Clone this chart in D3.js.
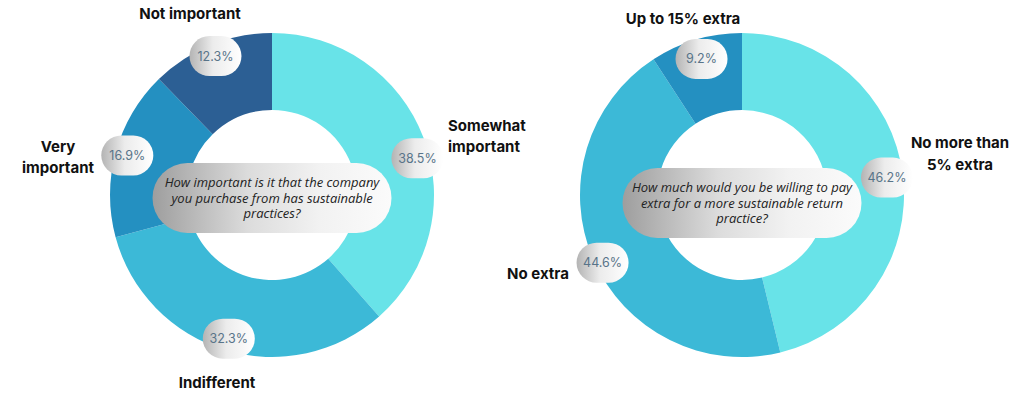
<!DOCTYPE html>
<html>
<head>
<meta charset="utf-8">
<script src="https://cdn.jsdelivr.net/npm/d3@7"></script>
<style>
  html, body { margin: 0; padding: 0; background: #ffffff; }
  svg { display: block; }
</style>
</head>
<body>
<svg id="chart" width="1016" height="395"></svg>
<script>
// ---- Data ----
const chart1Categories = ["Somewhat important", "Indifferent", "Very important", "Not important"];
const chart1Values = [38.5, 32.3, 16.9, 12.3];
const chart1Question = ["How important is it that the company", "you purchase from has sustainable", "practices?"];

const chart2Categories = ["No more than 5% extra", "No extra", "Up to 15% extra"];
const chart2Values = [46.2, 44.6, 9.2];
const chart2Question = ["How much would you be willing to pay", "extra for a more sustainable return", "practice?"];

// ---- Styles / layout ----
const chart1Colors = ["#68E3E8", "#3CB9D7", "#2490C1", "#2C5F94"];
const chart2Colors = ["#68E3E8", "#3CB9D7", "#2490C1"];

const outerR = 162, innerR = 85, pillR = 150;
const labelAngleShift = { "Somewhat important": 6.5, "No extra": -2.5 };
const labelRadiusAdj = { "No more than 5% extra": -4, "No extra": 5, "Up to 15% extra": -8 };

const catLabelLayout = {
  "Somewhat important": { lines: ["Somewhat", "important"], dx: 176, dy: -59, anchor: "start" },
  "Indifferent": { lines: ["Indifferent"], dx: -55, dy: 187, anchor: "middle" },
  "Very important": { lines: ["Very", "important"], dx: -214, dy: -38, anchor: "middle" },
  "Not important": { lines: ["Not important"], dx: -82, dy: -182, anchor: "middle" },
  "No more than 5% extra": { lines: ["No more than", "5% extra"], dx: 218, dy: -41.5, anchor: "middle" },
  "No extra": { lines: ["No extra"], dx: -204, dy: 78, anchor: "middle" },
  "Up to 15% extra": { lines: ["Up to 15% extra"], dx: -59, dy: -177, anchor: "middle" }
};

const svg = d3.select("#chart");
const defs = svg.append("defs");

const pillGrad = defs.append("linearGradient").attr("id", "pillGrad")
  .attr("x1", "0%").attr("x2", "100%").attr("y1", "0%").attr("y2", "0%");
pillGrad.append("stop").attr("offset", "0%").attr("stop-color", "#b4b4b4");
pillGrad.append("stop").attr("offset", "45%").attr("stop-color", "#ececec");
pillGrad.append("stop").attr("offset", "100%").attr("stop-color", "#ffffff");

const qGrad = defs.append("linearGradient").attr("id", "qGrad")
  .attr("x1", "0%").attr("x2", "100%").attr("y1", "0%").attr("y2", "0%");
qGrad.append("stop").attr("offset", "0%").attr("stop-color", "#9e9e9e");
qGrad.append("stop").attr("offset", "40%").attr("stop-color", "#dcdcdc");
qGrad.append("stop").attr("offset", "70%").attr("stop-color", "#f2f2f2");
qGrad.append("stop").attr("offset", "100%").attr("stop-color", "#fbfbfb");

function drawDonut(cx, cy, categories, values, colors, question, qOffsetY) {
  const g = svg.append("g").attr("transform", `translate(${cx},${cy})`);
  const pie = d3.pie().sort(null).value(d => d.value);
  const data = categories.map((c, i) => ({ cat: c, value: values[i], color: colors[i] }));
  const arcs = pie(data);
  const arc = d3.arc().innerRadius(innerR).outerRadius(outerR);

  g.selectAll("path.slice").data(arcs).enter().append("path")
    .attr("class", "slice")
    .attr("d", arc)
    .attr("fill", d => d.data.color);

  // category labels (one text element per label, lines as tspans)
  arcs.forEach(a => {
    const L = catLabelLayout[a.data.cat];
    const n = L.lines.length;
    const t = g.append("text")
      .attr("text-anchor", L.anchor)
      .attr("font-family", "Inter, sans-serif")
      .attr("font-weight", 700)
      .attr("font-size", 15)
      .attr("fill", "#111111");
    L.lines.forEach((line, i) => {
      t.append("tspan")
        .attr("x", L.dx)
        .attr("y", L.dy + (i - (n - 1) / 2) * 21.5 + 5.5)
        .text(line);
    });
  });

  // central question pill
  const qw = 239, qh = 70;
  const qg = g.append("g").attr("transform", `translate(0,${qOffsetY})`);
  qg.append("rect")
    .attr("x", -qw / 2).attr("y", -qh / 2)
    .attr("width", qw).attr("height", qh)
    .attr("rx", qh / 2).attr("ry", qh / 2)
    .attr("fill", "url(#qGrad)");
  const qt = qg.append("text")
    .attr("text-anchor", "middle")
    .attr("font-family", "'Open Sans', sans-serif")
    .attr("font-style", "italic")
    .attr("font-size", 13)
    .attr("fill", "#222222");
  question.forEach((line, i) => {
    qt.append("tspan")
      .attr("x", 0)
      .attr("y", (i - 1) * 15.5 + 4.5)
      .text(line);
  });

  // percentage pills
  arcs.forEach(a => {
    const mid = (a.startAngle + a.endAngle) / 2 + ((labelAngleShift[a.data.cat] || 0) * Math.PI / 180);
    const r = pillR + (labelRadiusAdj[a.data.cat] || 0);
    const px = r * Math.sin(mid), py = -r * Math.cos(mid);
    const pg = g.append("g").attr("transform", `translate(${px},${py})`);
    pg.append("rect")
      .attr("x", -26).attr("y", -20).attr("width", 52).attr("height", 40)
      .attr("rx", 20).attr("ry", 20)
      .attr("fill", "url(#pillGrad)");
    pg.append("text")
      .attr("text-anchor", "middle")
      .attr("dominant-baseline", "central")
      .attr("font-family", "Inter, sans-serif")
      .attr("font-size", 12.5)
      .attr("fill", "#587489")
      .text(a.data.value.toFixed(1) + "%");
  });
}

drawDonut(272, 195, chart1Categories, chart1Values, chart1Colors, chart1Question, 3);
drawDonut(742, 195, chart2Categories, chart2Values, chart2Colors, chart2Question, 8);
</script>
</body>
</html>
